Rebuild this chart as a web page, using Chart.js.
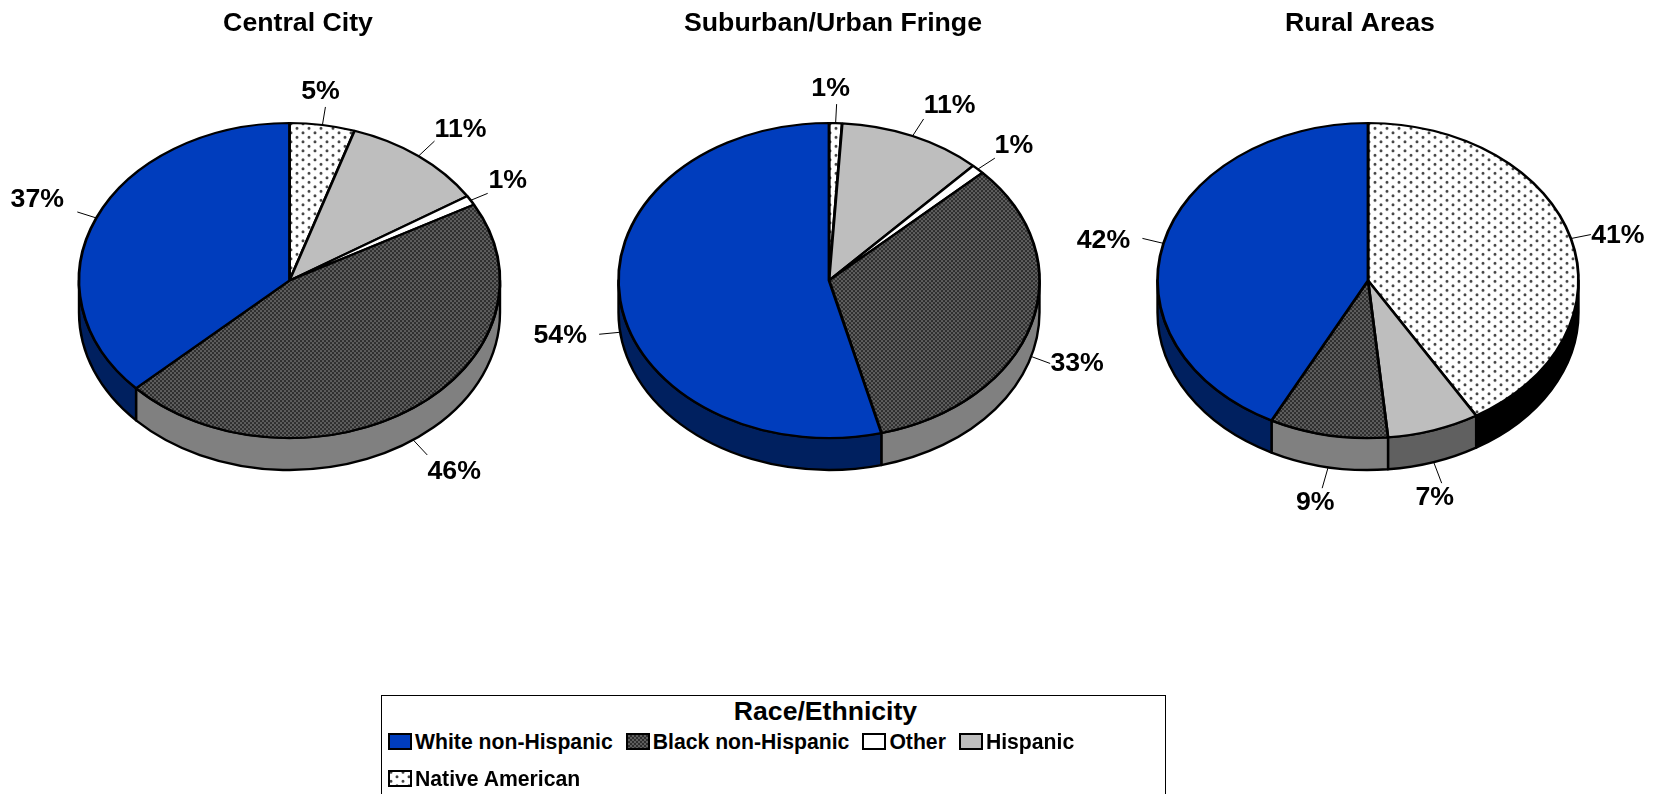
<!DOCTYPE html>
<html>
<head>
<meta charset="utf-8">
<title>Race/Ethnicity by area</title>
<script src="https://cdn.jsdelivr.net/npm/chart.js@4"></script>
<style>
    body { margin: 0; width: 1655px; height: 794px; overflow: hidden; background: #fff; position: relative;
           font-family: "Liberation Sans", Arial, sans-serif; font-weight: bold; color: #000; }
    canvas.pie { position: absolute; top: 0; }
    #legend { position: absolute; left: 381px; top: 695px; width: 783px; height: 110px; border: 1px solid #000; box-sizing: content-box; }
    #legend h4 { margin: 0; font-size: 26.6px; line-height: 31px; text-align: center; position: relative; left: 52px; }
    #legendItems { display: flex; flex-wrap: wrap; column-gap: 13px; padding-left: 6px; margin-top: -4px; }
    .item { display: flex; align-items: center; height: 37px; font-size: 21.2px; }
    .item canvas { margin-right: 3px; }
</style>
</head>
<body>
<canvas class="pie" id="central" width="640" height="600"></canvas>
<canvas class="pie" id="suburban" width="640" height="600"></canvas>
<canvas class="pie" id="rural" width="640" height="600"></canvas>
<div id="legend">
    <h4>Race/Ethnicity</h4>
    <div id="legendItems"></div>
</div>

<script>
// data, all in legend order
const categories = ['White non-Hispanic', 'Black non-Hispanic', 'Other', 'Hispanic', 'Native American'];
const centralCity = [37, 46, 1, 11, 5];
const suburbanFringe = [54, 33, 1, 11, 1];
const ruralAreas = [42, 9, 0, 7, 41];

// look of each category
const sideColors = ['#00205f', '#808080', '#ffffff', '#606060', '#000000'];

function makeTile(w, h, paint) {
    const c = document.createElement('canvas');
    c.width = w;
    c.height = h;
    paint(c.getContext('2d'));
    return c;
}
const hatchTile = makeTile(4, 4, function(g) {
    g.fillStyle = '#2e2e2e';
    g.fillRect(0, 0, 4, 4);
    g.fillStyle = '#5e5e5e';
    g.fillRect(0, 0, 2, 2);
    g.fillRect(2, 2, 2, 2);
});
const dotTile = makeTile(12, 9, function(g) {
    g.fillStyle = '#fff';
    g.fillRect(0, 0, 12, 9);
    g.fillStyle = '#444';
    g.beginPath();
    g.arc(3, 2.2, 1.5, 0, Math.PI * 2);
    g.arc(9, 6.7, 1.5, 0, Math.PI * 2);
    g.fill();
});

const TILT = 157.5 / 210.5;
const DEPTH = 32;
const RADIUS = 210.5;
const CENTER_Y = 280.5;

// undo the squash on the tile so it lands on whole pixels
function slicePattern(tile, ctx) {
    const p = ctx.createPattern(tile, 'repeat');
    const f = -CENTER_Y * (1 - TILT) / TILT;
    p.setTransform(new DOMMatrix().translate(0, f).scale(1, 1 / TILT));
    return p;
}

// draws the wall under the pie and squashes the pie into an ellipse
const tiltPlugin = {
    id: 'tilt',
    beforeDatasetDraw(chart) {
        const ctx = chart.ctx;
        const arcs = chart.getDatasetMeta(0).data;
        const cx = arcs[0].x, cy = arcs[0].y;
        const rx = arcs[0].outerRadius, ry = rx * TILT;
        const sides = chart.config.options.sideColors;

        ctx.save();
        ctx.lineWidth = 2.4;
        ctx.strokeStyle = '#000';
        ctx.lineJoin = 'round';
        arcs.forEach(function(arc, i) {
            const a = Math.max(arc.startAngle, 0);
            const b = Math.min(arc.endAngle, Math.PI);
            if (b <= a) return;
            ctx.beginPath();
            ctx.ellipse(cx, cy, rx, ry, 0, a, b);
            ctx.ellipse(cx, cy + DEPTH, rx, ry, 0, b, a, true);
            ctx.closePath();
            ctx.fillStyle = sides[i];
            ctx.fill();
            ctx.stroke();
        });
        ctx.restore();

        ctx.save();
        ctx.translate(cx, cy);
        ctx.scale(1, TILT);
        ctx.translate(-cx, -cy);
    },
    afterDatasetDraw(chart) {
        chart.ctx.restore();
    }
};

// the titles do not sit right over the pies
const titleShiftPlugin = {
    id: 'titleShift',
    afterLayout(chart) {
        const dx = chart.config.options.titleShift;
        chart.titleBlock.left += dx;
        chart.titleBlock.right += dx;
    }
};

// value labels with their leader lines, hung off the arc elements
const labelPlugin = {
    id: 'sliceLabels',
    afterDraw(chart) {
        const ctx = chart.ctx;
        const spots = chart.config.options.labelSpots;
        const values = chart.data.datasets[0].data;
        ctx.save();
        ctx.font = 'bold 26.7px "Liberation Sans", Arial, sans-serif';
        ctx.textAlign = 'center';
        ctx.textBaseline = 'middle';
        ctx.fillStyle = '#000';
        ctx.strokeStyle = '#000';
        ctx.lineWidth = 1;
        chart.getDatasetMeta(0).data.forEach(function(arc, i) {
            if (!values[i]) return;
            const mid = (arc.startAngle + arc.endAngle) / 2;
            const ex = arc.x + Math.cos(mid) * arc.outerRadius;
            let ey = arc.y + Math.sin(mid) * arc.outerRadius * TILT;
            if (Math.sin(mid) > 0) ey += DEPTH;
            const s = spots[i];
            ctx.beginPath();
            ctx.moveTo(ex, ey);
            ctx.lineTo(ex + s[0], ey + s[1]);
            ctx.stroke();
            ctx.fillText(values[i] + '%', ex + s[2], ey + s[3]);
        });
        ctx.restore();
    }
};

// slices run clockwise from the top in reverse legend order
function reversed(list) {
    return list.slice().reverse();
}

function makePie(id, left, title, values, padRight, titleShift, labelSpots) {
    const canvas = document.getElementById(id);
    canvas.style.left = left + 'px';
    const ctx = canvas.getContext('2d');
    const fills = ['#003dbd', slicePattern(hatchTile, ctx), '#ffffff', '#bebebe', slicePattern(dotTile, ctx)];
    return new Chart(ctx, {
        type: 'pie',
        data: {
            labels: reversed(categories),
            datasets: [{
                data: reversed(values),
                backgroundColor: reversed(fills),
                borderColor: '#000',
                borderWidth: 2.8,
                radius: RADIUS
            }]
        },
        options: {
            responsive: false,
            animation: false,
            sideColors: reversed(sideColors),
            labelSpots: labelSpots,
            titleShift: titleShift,
            layout: { padding: { left: 0, right: padRight, top: 0, bottom: 79 } },
            plugins: {
                legend: { display: false },
                tooltip: { enabled: false },
                title: {
                    display: true,
                    text: title,
                    color: '#000',
                    font: { family: '"Liberation Sans", Arial, sans-serif', size: 26.7, weight: 'bold', lineHeight: 1.2 },
                    padding: { top: 8, bottom: 0 }
                }
            }
        },
        plugins: [titleShiftPlugin, tiltPlugin, labelPlugin]
    });
}

// [leader dx, leader dy, text dx, text dy] measured from the slice edge, in slice order
makePie('central', -30, 'Central City', centralCity, 1, 8.5, [
    [3, -18, -2, -33], [16, -15, 42, -26], [17, -7, 37, -20], [14, 15, 41, 32], [-19, -6, -59, -18]
]);
makePie('suburban', 509, 'Suburban/Urban Fringe', suburbanFringe, 0, 4, [
    [1, -19, -5, -34], [11, -17, 37, -30], [17, -11, 36, -24], [19, 7, 46, 7], [-21, 2, -60, 3]
]);
makePie('rural', 1048, 'Rural Areas', ruralAreas, 0, -8, [
    [20, -4, 47, -3], [8, 21, 1, 35], [0, 0, 0, 0], [-6, 21, -13, 35], [-21, -5, -60, -3]
]);

// shared legend
const swatchFills = ['#003dbd', hatchTile, '#ffffff', '#bebebe', dotTile];
const box = document.getElementById('legendItems');
categories.forEach(function(name, i) {
    const item = document.createElement('div');
    item.className = 'item';
    const sw = document.createElement('canvas');
    sw.width = 24;
    sw.height = 17;
    const g = sw.getContext('2d');
    const f = swatchFills[i];
    g.fillStyle = typeof f === 'string' ? f : g.createPattern(f, 'repeat');
    g.fillRect(0, 0, 24, 17);
    g.strokeStyle = '#000';
    g.lineWidth = 2;
    g.strokeRect(1, 1, 22, 15);
    item.appendChild(sw);
    item.appendChild(document.createTextNode(name));
    box.appendChild(item);
});
</script>
</body>
</html>
